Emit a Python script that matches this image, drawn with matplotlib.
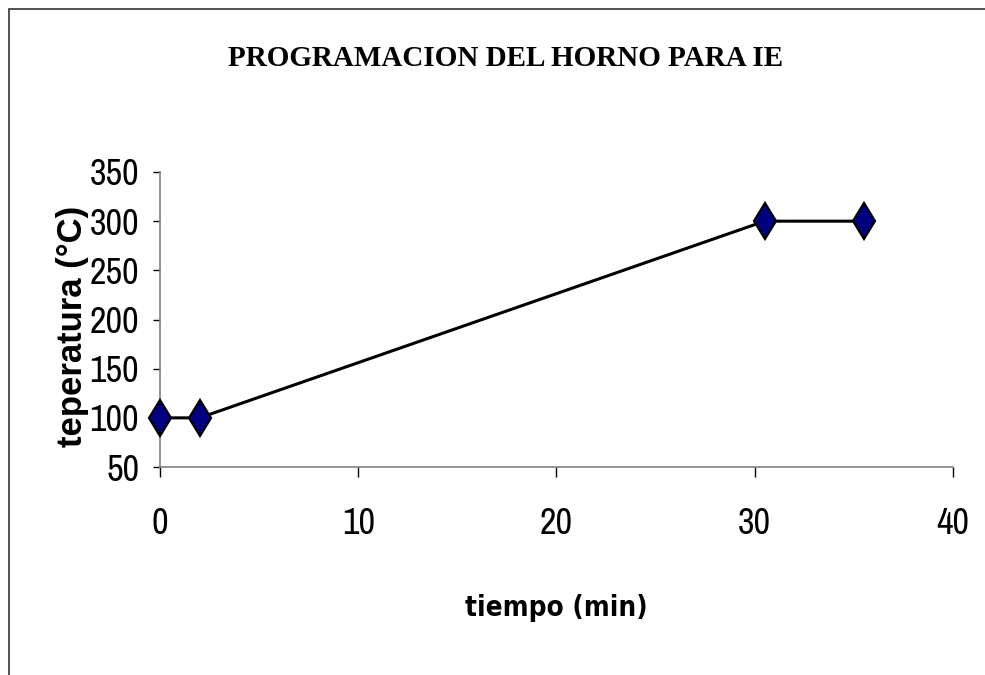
import matplotlib
matplotlib.use('Agg')
import matplotlib.pyplot as plt
from matplotlib.patches import Rectangle
from matplotlib import font_manager

# Programa de temperatura del horno
tiempo = [0, 2, 30.5, 35.5]
temperatura = [100, 100, 300, 300]
xticks = [0, 10, 20, 30, 40]
yticks = [50, 100, 150, 200, 250, 300, 350]

# fuente estrecha parecida a Arial Narrow, si existe
names = {f.name for f in font_manager.fontManager.ttflist}
narrow = 'Liberation Sans'
for cand in ('Archivo Narrow', 'Liberation Sans Narrow'):
    if cand in names:
        narrow = cand
        break

fig = plt.figure(figsize=(9.85, 6.75), dpi=100)
fig.patch.set_facecolor('white')

# marco del area del grafico (recortado a la derecha y abajo)
fig.patches.append(Rectangle((9 / 985, -0.1), 1.2, 1 - 9 / 675 + 0.1,
                             transform=fig.transFigure, fill=False,
                             edgecolor='#333333', linewidth=1.2))

ax = fig.add_axes([0.1624, 0.3081, 0.8051, 0.4371])
ax.plot(tiempo, temperatura, color='black', lw=2.2, marker='d',
        markersize=18, markerfacecolor='#000080', markeredgecolor='black',
        markeredgewidth=1.6, clip_on=False, zorder=3)

ax.set_xlim(0, 40)
ax.set_ylim(50, 350)
ax.set_xticks(xticks)
ax.set_yticks(yticks)
for s in ('top', 'right'):
    ax.spines[s].set_visible(False)
for s in ('left', 'bottom'):
    ax.spines[s].set_color('#808080')
    ax.spines[s].set_linewidth(1.2)
ax.tick_params(axis='x', direction='out', length=7, width=1, pad=22)
ax.tick_params(axis='y', direction='out', length=5, width=1, pad=10)
for lab in ax.get_xticklabels() + ax.get_yticklabels():
    lab.set_fontfamily(narrow)
    lab.set_fontsize(26)

ax.set_xlabel('tiempo (min)', family='DejaVu Sans', fontstretch='condensed',
              fontsize=20, fontweight='bold', labelpad=39)
ax.set_ylabel('teperatura (°C)', family='Liberation Sans', fontsize=25, fontweight='bold')
ax.yaxis.set_label_coords(-0.089, 0.476)

fig.text(0.513, 0.913, 'PROGRAMACION DEL HORNO PARA IE', ha='center', va='center',
         family='Liberation Serif', fontsize=21, fontweight='bold')

fig.savefig('out.png', dpi=100)
